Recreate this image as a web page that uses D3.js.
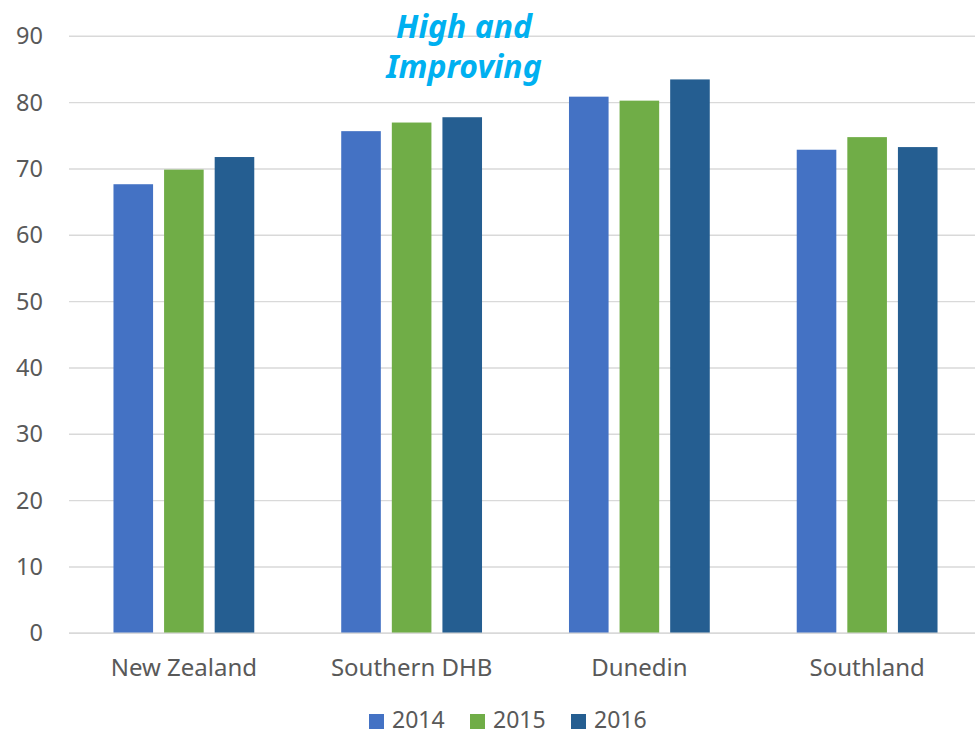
<!DOCTYPE html>
<html>
<head>
<meta charset="utf-8">
<script src="https://cdn.jsdelivr.net/npm/d3@7"></script>
<style>
  html, body { margin: 0; padding: 0; background: #fff; }
  svg { display: block; font-family: "Noto Sans", "Open Sans", sans-serif; }
</style>
</head>
<body>
<svg id="chart" width="975" height="735"></svg>
<script>
// Regions and yearly values
const regions = ["New Zealand", "Southern DHB", "Dunedin", "Southland"];
const years = ["2014", "2015", "2016"];
const values2014 = [67.7, 75.7, 80.9, 72.9];
const values2015 = [69.9, 77.0, 80.3, 74.8];
const values2016 = [71.8, 77.8, 83.5, 73.3];
const yTicks = [0, 10, 20, 30, 40, 50, 60, 70, 80, 90];
const titleLines = ["High and", "Improving"];

const series = [values2014, values2015, values2016];
const colors = ["#4472C4", "#70AD47", "#255E91"];

const svg = d3.select("#chart");
const W = 975;

const x = d3.scaleBand().domain(regions).range([70, 981]).paddingInner(0).paddingOuter(0);
const y = d3.scaleLinear().domain([0, 90]).range([633.3, 36.3]);
const barW = 39.6, barStep = 50.6;
const xs = d3.scaleBand().domain(years).range([-barStep * 1.5, barStep * 1.5]);

// Gridlines
svg.append("g")
  .selectAll("line")
  .data(yTicks)
  .join("line")
  .attr("x1", 69).attr("x2", W)
  .attr("y1", d => y(d)).attr("y2", d => y(d))
  .attr("stroke", "#D9D9D9").attr("stroke-width", 1.4);

// Y axis labels
const yAxis = d3.axisLeft(y).tickValues(yTicks).tickSize(0).tickPadding(0);
const gy = svg.append("g").attr("transform", "translate(43,0)").call(yAxis);
gy.select(".domain").remove();
gy.selectAll("text")
  .attr("font-size", 23.5).attr("fill", "#595959")
  .attr("font-family", "\"Noto Sans\", sans-serif");

// Bars
const groups = svg.append("g")
  .selectAll("g")
  .data(regions)
  .join("g")
  .attr("transform", r => `translate(${x(r) + x.bandwidth() / 2},0)`);

groups.selectAll("rect")
  .data((r, i) => years.map((yr, k) => ({ yr, k, v: series[k][i] })))
  .join("rect")
  .attr("x", d => xs(d.yr) + (barStep - barW) / 2)
  .attr("width", barW)
  .attr("y", d => y(d.v))
  .attr("height", d => y(0) - y(d.v))
  .attr("fill", d => colors[d.k]);

// Baseline on top of bars
svg.append("line")
  .attr("x1", 69).attr("x2", W)
  .attr("y1", y(0)).attr("y2", y(0))
  .attr("stroke", "#D9D9D9").attr("stroke-width", 1.4);

// X axis labels
const xAxis = d3.axisBottom(x).tickSize(0).tickPadding(0);
const gx = svg.append("g").attr("transform", "translate(0,659)").call(xAxis);
gx.select(".domain").remove();
gx.selectAll("text")
  .attr("font-size", 24).attr("fill", "#595959")
  .attr("font-family", "\"Noto Sans\", sans-serif");

// Annotation
svg.append("g")
  .selectAll("text")
  .data(titleLines)
  .join("text")
  .attr("x", 464)
  .attr("y", (d, i) => 38 + i * 40)
  .attr("text-anchor", "middle")
  .attr("font-size", 32)
  .attr("font-weight", "bold")
  .attr("font-style", "italic")
  .attr("fill", "#00B0F0")
  .text(d => d);

// Legend
const legendX = [369, 470, 571];
const lg = svg.append("g")
  .selectAll("g")
  .data(years)
  .join("g")
  .attr("transform", (d, i) => `translate(${legendX[i]},714)`);
lg.append("rect").attr("width", 15).attr("height", 15).attr("fill", (d, i) => colors[i]);
lg.append("text")
  .attr("x", 23).attr("y", 14)
  .attr("font-size", 23).attr("fill", "#595959")
  .text(d => d);
</script>
</body>
</html>
